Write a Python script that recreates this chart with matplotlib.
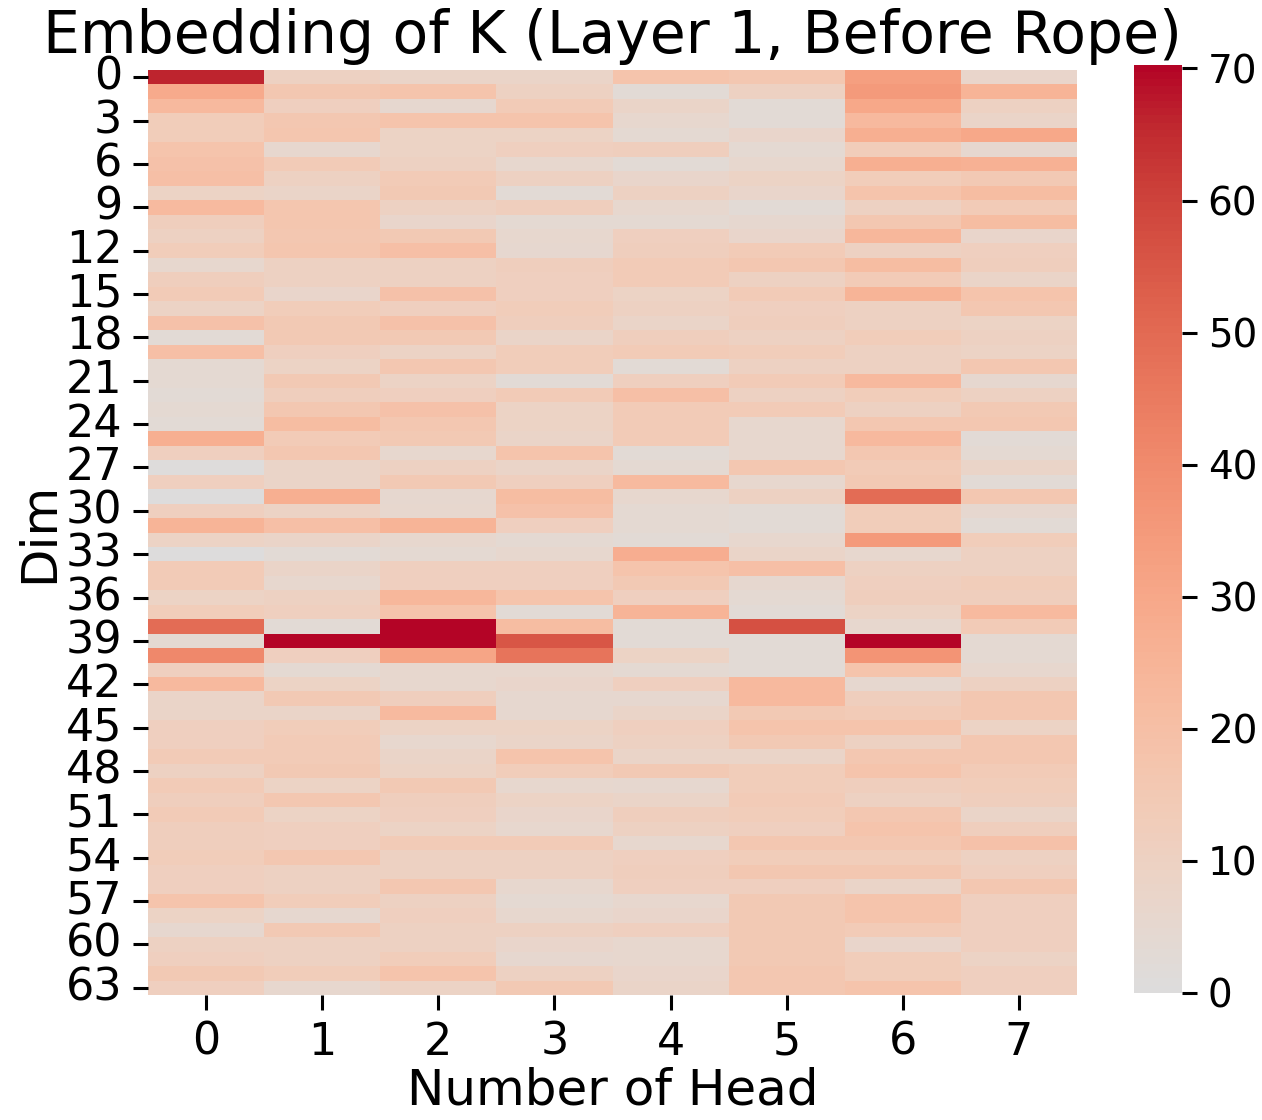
import matplotlib
matplotlib.use('Agg')
import numpy as np
import matplotlib.pyplot as plt
import seaborn as sns

# mean |K| per dim, one list per head (rows = dims 0..63)
head0 = [66, 29, 23, 13, 13, 18, 19, 20, 9, 22, 12, 10, 13, 6, 12, 14,
         9, 19, 3, 20, 4, 4, 3, 4, 3, 27, 11, 1, 11, 0, 11, 25,
         9, 0.5, 14, 14, 9, 13, 49, 4, 41, 11, 23, 8, 8, 11, 11, 14,
         10, 14, 12, 14, 12, 12, 13, 11, 11, 18, 9, 5, 10, 11, 15, 11]
head1 = [10, 16, 11, 16, 17, 6, 14, 10, 8, 17, 17, 16, 17, 10, 10, 7,
         13, 15, 15, 11, 9, 15, 12, 16, 21, 14, 16, 8, 8, 27, 9, 20,
         8, 3, 8, 6, 10, 11, 3, 70.3, 11, 4, 9, 15, 8, 13, 14, 14,
         15, 9, 16, 9, 11, 11, 16, 10, 10, 13, 5, 15, 10, 10, 13, 6]
head2 = [8, 18, 5, 18, 9, 9, 10, 14, 15, 10, 7, 15, 20, 10, 10, 19,
         11, 19, 15, 9, 16, 9, 11, 19, 16, 15, 6, 10, 15, 5, 6, 25,
         6, 4, 11, 11, 24, 18, 70, 70, 31, 6, 6, 12, 22, 9, 6, 8,
         9, 15, 12, 11, 9, 14, 10, 10, 16, 10, 11, 10, 10, 13, 18, 9]
head3 = [8, 10, 14, 18, 9, 11, 6, 10, 3, 12, 4, 6, 5, 12, 11, 11,
         13, 12, 8, 13, 13, 3, 14, 9, 9, 8, 18, 8, 11, 21, 19, 11,
         4, 6, 11, 11, 18, 3, 21, 55, 47, 6, 7, 5, 5, 9, 8, 18,
         13, 6, 9, 7, 6, 14, 10, 10, 6, 4, 6, 10, 7, 5, 10, 15]
head4 = [18, 3, 8, 6, 4, 12, 3, 7, 10, 6, 4, 11, 12, 14, 14, 9,
         10, 8, 12, 14, 3, 11, 20, 14, 14, 14, 3, 4, 22, 6, 4, 4,
         3, 28, 18, 15, 11, 25, 3, 3, 9, 4, 11, 5, 8, 11, 10, 8,
         15, 5, 8, 12, 10, 6, 11, 12, 11, 6, 7, 11, 6, 6, 7, 8]
head5 = [16, 10, 3, 3, 7, 4, 6, 9, 7, 3, 5, 7, 14, 16, 10, 14,
         11, 12, 10, 13, 10, 14, 10, 14, 6, 6, 6, 16, 6, 10, 3, 3,
         6, 8, 20, 5, 4, 3, 57, 3, 3, 3, 23, 23, 15, 18, 15, 8,
         13, 13, 14, 13, 11, 16, 13, 16, 11, 15, 15, 15, 15, 15, 16, 16]
head6 = [33, 35, 30, 23, 27, 13, 27, 13, 18, 10, 16, 24, 10, 21, 14, 25,
         10, 10, 13, 10, 10, 23, 13, 10, 16, 23, 16, 14, 15, 49, 13, 13,
         35, 6, 10, 11, 12, 9, 6, 70, 37, 18, 5, 12, 14, 18, 10, 16,
         18, 12, 10, 16, 18, 16, 13, 16, 8, 18, 18, 14, 7, 13, 13, 18]
head7 = [7, 25, 10, 8, 30, 5, 26, 15, 21, 14, 21, 7, 11, 12, 8, 18,
         16, 9, 10, 9, 16, 5, 10, 15, 16, 3, 4, 8, 3, 16, 5, 3,
         13, 10, 10, 13, 12, 22, 14, 4, 4, 6, 10, 16, 16, 9, 16, 16,
         14, 13, 12, 8, 12, 19, 10, 11, 16, 11, 11, 11, 11, 9, 11, 11]

heads = [head0, head1, head2, head3, head4, head5, head6, head7]
data = np.array(heads).T

fig = plt.figure(figsize=(12.62, 11.2), dpi=100)
ax = fig.add_axes([0.1173, 0.1116, 0.7361, 0.8259])
cax = fig.add_axes([0.8986, 0.1134, 0.038, 0.829])

sns.heatmap(data, cmap='coolwarm', center=0, ax=ax, cbar_ax=cax)

ax.set_yticks(np.arange(0, 64, 3) + 0.5)
ax.set_yticklabels([str(i) for i in range(0, 64, 3)], rotation=0)
ax.set_xticks(np.arange(8) + 0.5)
ax.set_xticklabels([str(i) for i in range(8)])
ax.tick_params(labelsize=32, length=10.5, width=2.2, pad=8)
cax.tick_params(labelsize=28, length=10.5, width=2.2, pad=8)
cax.set_yticks([0, 10, 20, 30, 40, 50, 60, 70])

ax.set_title('Embedding of K (Layer 1, Before Rope)', fontsize=42, pad=12)
ax.set_xlabel('Number of Head', fontsize=36, labelpad=2)
ax.set_ylabel('Dim', fontsize=36, labelpad=2)

plt.savefig('out.png', dpi=100)
